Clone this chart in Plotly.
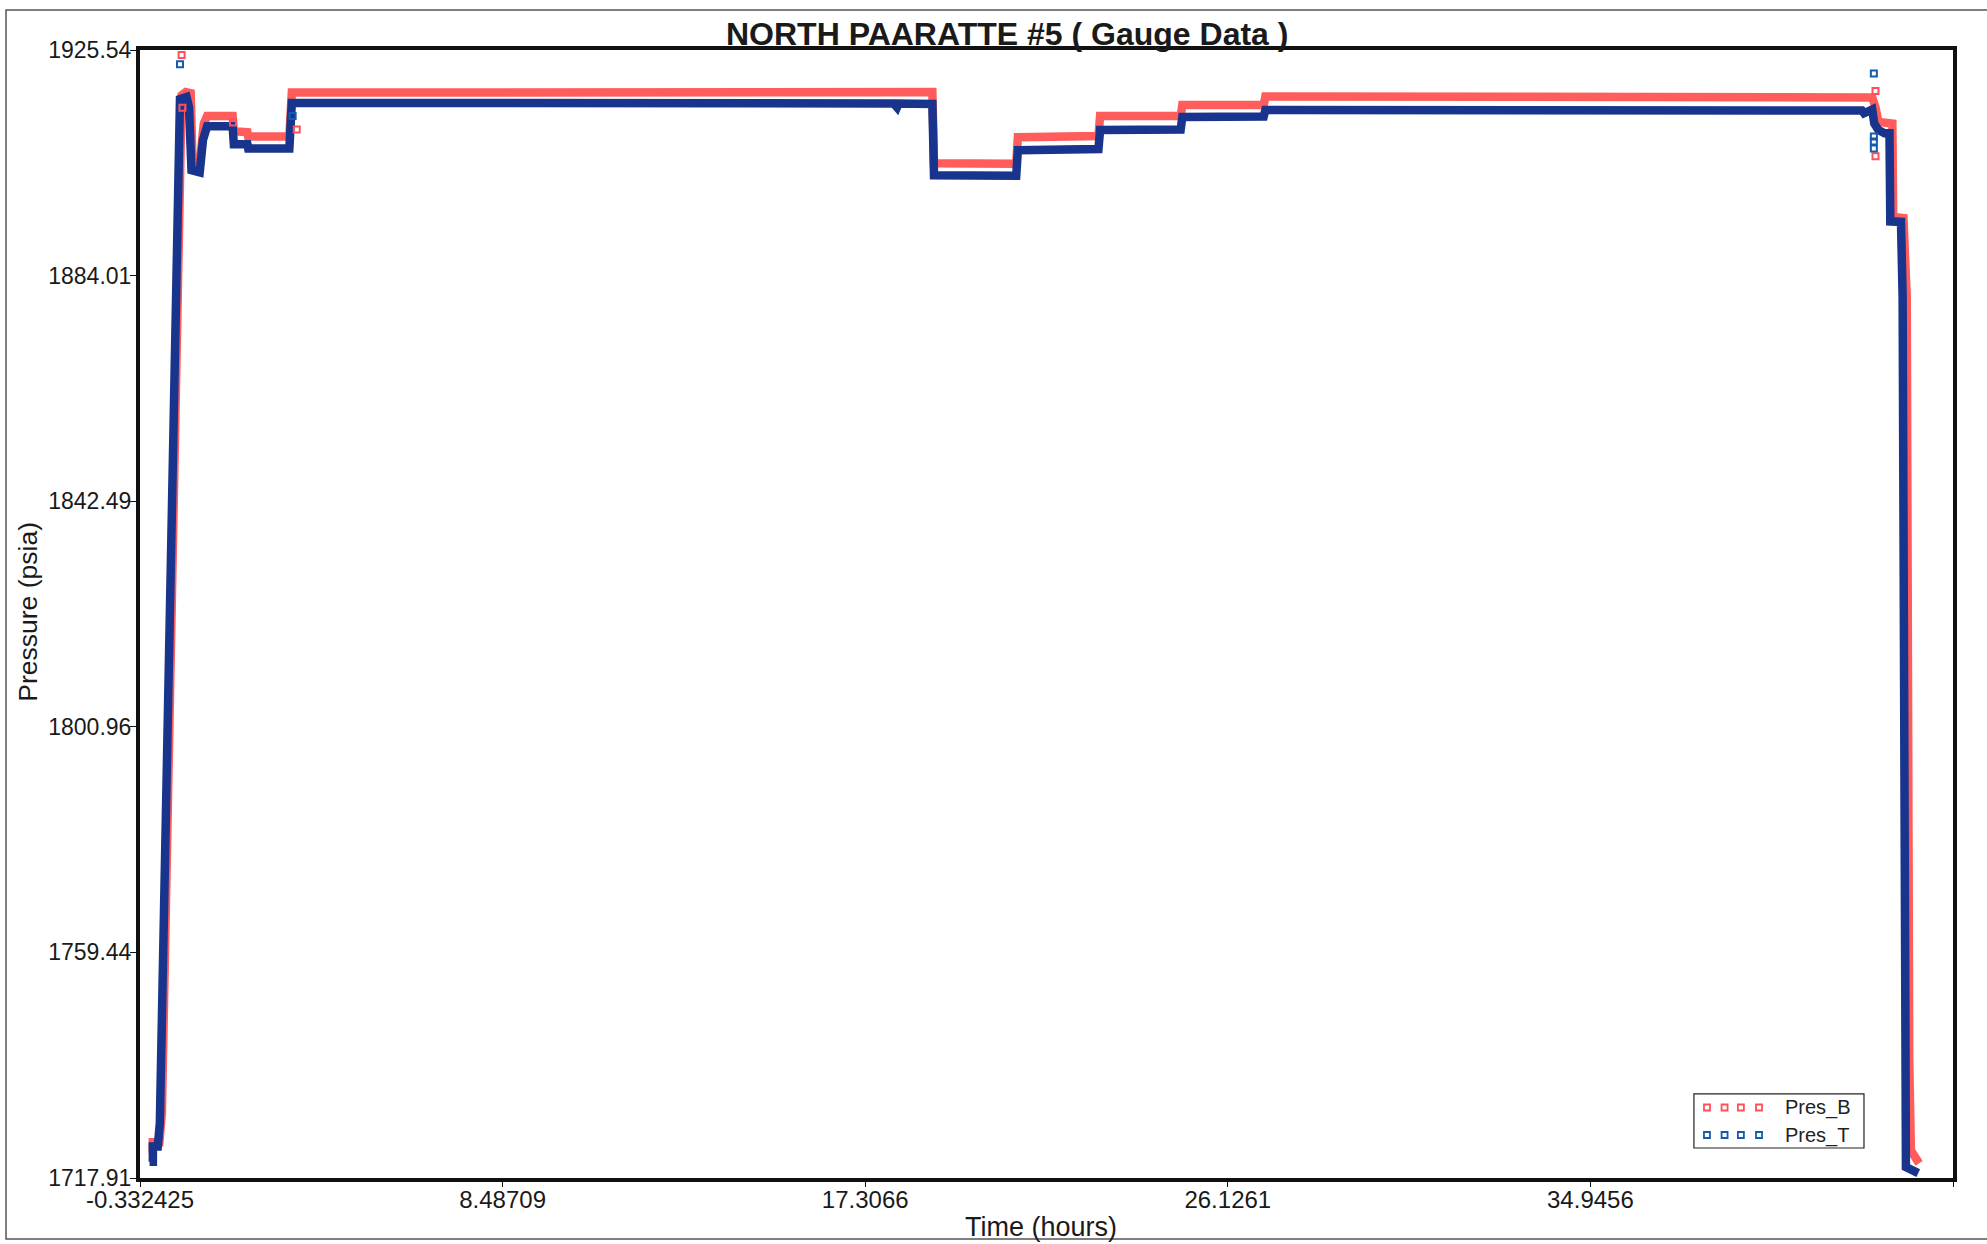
import plotly.graph_objects as go

# ---- gauge readings (time in hours, pressure in psia) ----
pres_b_time = [-0.08, -0.02, -0.02, 0.14, 0.20, 0.45, 0.61, 0.68, 0.78, 0.90, 0.94, 1.02,
               1.12, 1.22, 1.30, 1.92, 1.95, 2.28, 2.30, 3.30, 3.36, 18.94, 18.98, 20.98,
               21.02, 22.98, 23.02, 24.98, 25.02, 27.00, 27.04, 41.80, 41.88, 41.95,
               42.29, 42.31, 42.56, 42.64, 42.70, 42.74, 42.94]
pres_b_psia = [1722.5, 1722.5, 1724.5, 1724.5, 1730.0, 1820.6, 1886.9, 1917.2, 1917.8, 1917.6, 1906.0, 1904.2,
               1904.5, 1912.0, 1913.4, 1913.4, 1910.6, 1910.4, 1909.6, 1909.6, 1917.7, 1917.8, 1904.7, 1904.6,
               1909.5, 1909.7, 1913.4, 1913.4, 1915.4, 1915.4, 1917.0, 1916.8, 1915.0, 1912.3,
               1912.0, 1894.8, 1894.6, 1880.0, 1740.0, 1723.0, 1720.6]

pres_t_time = [-0.10, -0.02, -0.02, 0.10, 0.15, 0.40, 0.56, 0.64, 0.80, 0.86, 0.92, 1.12,
               1.20, 1.30, 1.92, 1.95, 2.28, 2.30, 3.30, 3.36, 18.00, 18.08, 18.12, 18.94,
               18.98, 20.98, 21.02, 22.98, 23.02, 24.98, 25.02, 27.00, 27.04, 41.55, 41.60,
               41.70, 41.80, 41.85, 41.95, 42.10, 42.22, 42.24, 42.50, 42.54, 42.59, 42.62, 42.92]
pres_t_psia = [1720.9, 1720.9, 1723.7, 1723.7, 1728.0, 1820.6, 1886.9, 1916.5, 1916.9, 1915.0, 1903.4, 1903.0,
               1909.0, 1911.5, 1911.5, 1908.2, 1908.2, 1907.4, 1907.4, 1915.8, 1915.7, 1915.0, 1915.7, 1915.6,
               1902.5, 1902.4, 1907.1, 1907.3, 1910.8, 1910.9, 1913.2, 1913.3, 1914.5, 1914.4, 1913.9,
               1914.4, 1914.6, 1912.0, 1910.8, 1910.2, 1910.2, 1894.0, 1893.9, 1880.0, 1730.0, 1719.9, 1718.8]

# isolated readings standing apart from the main trend
pres_b_spike_time = [0.68, 0.70, 1.93, 3.48, 41.88, 41.88]
pres_b_spike_psia = [1924.6, 1914.9, 1912.2, 1910.9, 1918.0, 1906.0]
pres_t_spike_time = [0.64, 3.38, 41.84, 41.84, 41.84, 41.84]
pres_t_spike_psia = [1922.9, 1913.4, 1921.2, 1909.6, 1908.7, 1907.4]

x_ticks = [-0.332425, 8.48709, 17.3066, 26.1261, 34.9456, 43.7651]
x_tick_text = ["-0.332425", "8.48709", "17.3066", "26.1261", "34.9456", "43.7651"]
y_ticks = [1717.91, 1759.44, 1800.96, 1842.49, 1884.01, 1925.54]
y_tick_text = ["1717.91", "1759.44", "1800.96", "1842.49", "1884.01", "1925.54"]

series_names = ["Pres_B", "Pres_T"]
band_colors = ["rgb(255,92,92)", "rgb(24,52,140)"]
dot_colors = ["rgb(255,80,90)", "rgb(20,90,175)"]

FONT = "Liberation Sans, Arial, Helvetica, sans-serif"

fig = go.Figure()

# main bands (drawn as thick lines through the dense readings)
fig.add_trace(go.Scatter(x=pres_b_time, y=pres_b_psia, mode="lines",
                         line=dict(color=band_colors[0], width=8.5),
                         name=series_names[0], showlegend=False))
fig.add_trace(go.Scatter(x=pres_t_time, y=pres_t_psia, mode="lines",
                         line=dict(color=band_colors[1], width=8.5),
                         name=series_names[1], showlegend=False))

# scattered single readings
fig.add_trace(go.Scatter(x=pres_b_spike_time, y=pres_b_spike_psia, mode="markers",
                         marker=dict(symbol="square-open", size=6, color=dot_colors[0],
                                     line=dict(width=2, color=dot_colors[0])),
                         showlegend=False))
fig.add_trace(go.Scatter(x=pres_t_spike_time, y=pres_t_spike_psia, mode="markers",
                         marker=dict(symbol="square-open", size=6, color=dot_colors[1],
                                     line=dict(width=2, color=dot_colors[1])),
                         showlegend=False))

shapes = []
# outer page frame
shapes.append(dict(type="rect", xref="paper", yref="paper",
                   x0=-0.0739, x1=1.06, y0=-0.0541, y1=1.0355,
                   line=dict(color="#555555", width=1.5), layer="below"))
# legend box
shapes.append(dict(type="rect", xref="paper", yref="paper",
                   x0=0.8571, x1=0.9509, y0=0.0266, y1=0.0745,
                   line=dict(color="#222222", width=1.2), fillcolor="white"))

legend_rows = [0.0625, 0.0381]
square_x = [0.8643, 0.8740, 0.8830, 0.8930]
annotations = []
for name, col, ry in zip(series_names, dot_colors, legend_rows):
    for sx in square_x:
        shapes.append(dict(type="rect", xref="paper", yref="paper",
                           xsizemode="pixel", ysizemode="pixel",
                           xanchor=sx, yanchor=ry, x0=-3, x1=3, y0=-3, y1=3,
                           line=dict(color=col, width=1.8)))
    annotations.append(dict(xref="paper", yref="paper", x=0.9060, y=ry,
                            text=name, showarrow=False, xanchor="left", yanchor="middle",
                            font=dict(family=FONT, size=20, color="#222222")))

# chart title and axis titles
annotations.append(dict(xref="paper", yref="paper", x=0.478, y=1.0142,
                        text="<b>NORTH PAARATTE #5 ( Gauge Data )</b>", showarrow=False,
                        xanchor="center", yanchor="middle",
                        font=dict(family=FONT, size=32, color="#1a1a1a")))
annotations.append(dict(xref="paper", yref="paper", x=0.497, y=-0.0435,
                        text="Time (hours)", showarrow=False,
                        xanchor="center", yanchor="middle",
                        font=dict(family=FONT, size=27, color="#1a1a1a")))
annotations.append(dict(xref="paper", yref="paper", x=-0.0618, y=0.502,
                        text="Pressure (psia)", showarrow=False, textangle=-90,
                        xanchor="center", yanchor="middle",
                        font=dict(family=FONT, size=26.5, color="#1a1a1a")))

fig.update_layout(
    width=1987, height=1244,
    margin=dict(l=140, r=34, t=50, b=66),
    paper_bgcolor="white", plot_bgcolor="white",
    shapes=shapes, annotations=annotations,
    showlegend=False,
    font=dict(family=FONT, color="#1a1a1a"),
)
fig.update_xaxes(range=[x_ticks[0], x_ticks[-1]], tickmode="array",
                 tickvals=x_ticks, ticktext=x_tick_text,
                 showgrid=False, zeroline=False,
                 showline=True, linecolor="#111111", linewidth=4, mirror=True,
                 ticks="outside", ticklen=5, tickcolor="#111111",
                 ticklabelstandoff=-8,
                 tickfont=dict(family=FONT, size=24, color="#1a1a1a"))
fig.update_yaxes(range=[y_ticks[0], y_ticks[-1]], tickmode="array",
                 tickvals=y_ticks, ticktext=y_tick_text,
                 showgrid=False, zeroline=False,
                 showline=True, linecolor="#111111", linewidth=4, mirror=True,
                 ticks="outside", ticklen=6, tickcolor="#111111",
                 ticklabelstandoff=-6,
                 tickfont=dict(family=FONT, size=23, color="#1a1a1a"))

fig.write_html("out.html")
